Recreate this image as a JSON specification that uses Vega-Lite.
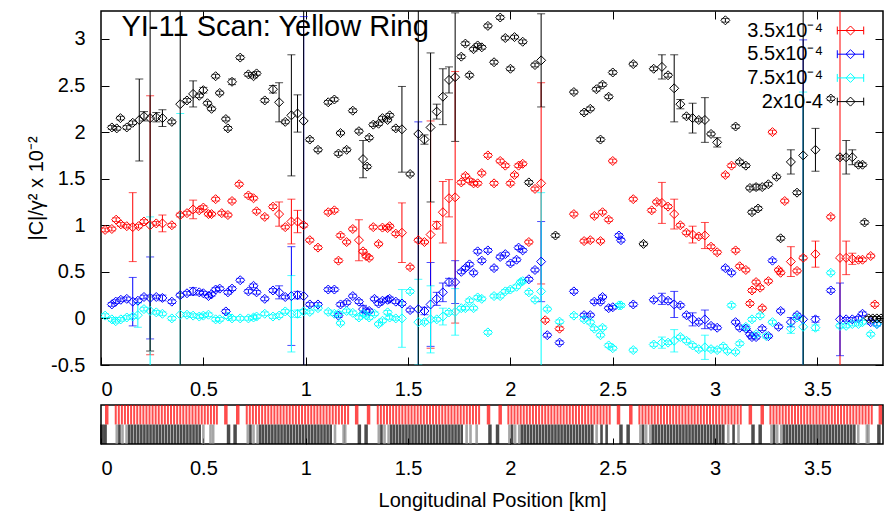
{
"$schema":"https://vega.github.io/schema/vega-lite/v6.json",
"padding":{"left":25,"top":9,"right":0,"bottom":0},
"spacing":4,
"config":{"font":"Liberation Sans","view":{"stroke":"black","strokeWidth":1.5},
"axis":{"labelFont":"Liberation Sans","labelFontSize":20,"labelColor":"black","tickColor":"black","titleFont":"Liberation Sans","titleFontSize":20,"titleFontWeight":"normal","titleColor":"black","grid":false,"domain":false}},
"resolve":{"scale":{"color":"independent"}},
"datasets":{
"pts":[
{"s":"r","x":0.02,"y":0.95,"e":0.02},{"s":"r","x":0.053,"y":0.96,"e":0.02},{"s":"r","x":0.074,"y":1.06,"e":0.02},{"s":"r","x":0.097,"y":1.01,"e":0.02},{"s":"r","x":0.126,"y":0.99,"e":0.02},{"s":"r","x":0.155,"y":0.98,"e":0.37},{"s":"r","x":0.183,"y":0.99,"e":0.02},{"s":"r","x":0.21,"y":1.04,"e":0.02},{"s":"r","x":0.24,"y":1.0,"e":1.39},{"s":"r","x":0.27,"y":1.02,"e":0.02},{"s":"r","x":0.3,"y":1.02,"e":0.09},{"s":"r","x":0.346,"y":1.0,"e":0.02},{"s":"r","x":0.387,"y":1.11,"e":0.02},{"s":"r","x":0.42,"y":1.13,"e":0.02},{"s":"r","x":0.45,"y":1.17,"e":0.1},{"s":"r","x":0.48,"y":1.16,"e":0.02},{"s":"r","x":0.5,"y":1.19,"e":0.02},{"s":"r","x":0.525,"y":1.12,"e":0.02},{"s":"r","x":0.54,"y":1.12,"e":0.02},{"s":"r","x":0.56,"y":1.28,"e":0.02},{"s":"r","x":0.59,"y":1.13,"e":0.02},{"s":"r","x":0.62,"y":1.11,"e":0.02},{"s":"r","x":0.64,"y":1.26,"e":0.02},{"s":"r","x":0.675,"y":1.44,"e":0.02},{"s":"r","x":0.72,"y":1.32,"e":0.02},{"s":"r","x":0.745,"y":1.29,"e":0.02},{"s":"r","x":0.76,"y":1.15,"e":0.02},{"s":"r","x":0.8,"y":1.09,"e":0.02},{"s":"r","x":0.84,"y":1.2,"e":0.02},{"s":"r","x":0.87,"y":1.12,"e":0.13},{"s":"r","x":0.9,"y":0.98,"e":0.02},{"s":"r","x":0.93,"y":1.04,"e":0.24},{"s":"r","x":0.96,"y":1.04,"e":0.12},{"s":"r","x":0.99,"y":1.0,"e":0.02},{"s":"r","x":1.02,"y":0.84,"e":0.02},{"s":"r","x":1.06,"y":0.76,"e":0.02},{"s":"r","x":1.11,"y":1.14,"e":0.02},{"s":"r","x":1.14,"y":1.16,"e":0.02},{"s":"r","x":1.16,"y":0.62,"e":0.02},{"s":"r","x":1.17,"y":0.89,"e":0.02},{"s":"r","x":1.2,"y":0.82,"e":0.02},{"s":"r","x":1.23,"y":0.96,"e":0.02},{"s":"r","x":1.26,"y":0.84,"e":0.22},{"s":"r","x":1.28,"y":0.72,"e":0.02},{"s":"r","x":1.295,"y":0.67,"e":0.02},{"s":"r","x":1.31,"y":0.65,"e":0.02},{"s":"r","x":1.33,"y":0.98,"e":0.02},{"s":"r","x":1.356,"y":0.8,"e":0.02},{"s":"r","x":1.375,"y":0.975,"e":0.02},{"s":"r","x":1.4,"y":0.97,"e":0.02},{"s":"r","x":1.41,"y":0.99,"e":0.02},{"s":"r","x":1.44,"y":0.91,"e":0.02},{"s":"r","x":1.47,"y":0.92,"e":0.32},{"s":"r","x":1.51,"y":0.55,"e":0.02},{"s":"r","x":1.55,"y":0.84,"e":0.02},{"s":"r","x":1.58,"y":0.82,"e":0.02},{"s":"r","x":1.61,"y":0.9,"e":1.22},{"s":"r","x":1.64,"y":1.0,"e":0.04},{"s":"r","x":1.67,"y":1.14,"e":0.33},{"s":"r","x":1.7,"y":1.29,"e":0.2},{"s":"r","x":1.73,"y":1.3,"e":1.35},{"s":"r","x":1.76,"y":1.46,"e":0.02},{"s":"r","x":1.78,"y":1.53,"e":0.02},{"s":"r","x":1.8,"y":1.48,"e":0.02},{"s":"r","x":1.82,"y":1.45,"e":0.02},{"s":"r","x":1.84,"y":1.45,"e":0.02},{"s":"r","x":1.86,"y":1.56,"e":0.02},{"s":"r","x":1.89,"y":1.75,"e":0.02},{"s":"r","x":1.92,"y":1.45,"e":0.02},{"s":"r","x":1.95,"y":1.69,"e":0.02},{"s":"r","x":1.975,"y":1.64,"e":0.02},{"s":"r","x":2.0,"y":1.45,"e":0.02},{"s":"r","x":2.02,"y":1.54,"e":0.02},{"s":"r","x":2.04,"y":1.64,"e":0.02},{"s":"r","x":2.06,"y":1.66,"e":0.02},{"s":"r","x":2.09,"y":0.82,"e":0.02},{"s":"r","x":2.12,"y":1.39,"e":0.02},{"s":"r","x":2.15,"y":1.45,"e":1.08},{"s":"r","x":2.17,"y":-0.02,"e":0.02},{"s":"r","x":2.24,"y":-0.11,"e":0.02},{"s":"r","x":2.31,"y":1.12,"e":0.02},{"s":"r","x":2.36,"y":0.83,"e":0.02},{"s":"r","x":2.39,"y":0.84,"e":0.02},{"s":"r","x":2.41,"y":1.1,"e":0.02},{"s":"r","x":2.44,"y":0.83,"e":0.02},{"s":"r","x":2.45,"y":1.14,"e":0.02},{"s":"r","x":2.48,"y":1.06,"e":0.02},{"s":"r","x":2.5,"y":1.69,"e":0.02},{"s":"r","x":2.6,"y":1.28,"e":0.02},{"s":"r","x":2.69,"y":1.16,"e":0.02},{"s":"r","x":2.715,"y":1.25,"e":0.02},{"s":"r","x":2.74,"y":1.24,"e":0.22},{"s":"r","x":2.77,"y":1.2,"e":0.02},{"s":"r","x":2.8,"y":1.12,"e":0.16},{"s":"r","x":2.83,"y":1.0,"e":0.02},{"s":"r","x":2.86,"y":0.92,"e":0.02},{"s":"r","x":2.89,"y":0.9,"e":0.09},{"s":"r","x":2.92,"y":0.88,"e":0.02},{"s":"r","x":2.95,"y":0.89,"e":0.14},{"s":"r","x":2.98,"y":0.77,"e":0.02},{"s":"r","x":3.01,"y":0.71,"e":0.02},{"s":"r","x":3.05,"y":1.54,"e":0.02},{"s":"r","x":3.08,"y":1.64,"e":0.02},{"s":"r","x":3.1,"y":0.73,"e":0.02},{"s":"r","x":3.12,"y":0.56,"e":0.02},{"s":"r","x":3.15,"y":0.52,"e":0.02},{"s":"r","x":3.17,"y":0.16,"e":0.02},{"s":"r","x":3.18,"y":0.3,"e":0.02},{"s":"r","x":3.2,"y":0.39,"e":0.02},{"s":"r","x":3.22,"y":0.33,"e":0.02},{"s":"r","x":3.23,"y":0.11,"e":0.02},{"s":"r","x":3.26,"y":0.4,"e":0.02},{"s":"r","x":3.28,"y":2.0,"e":0.02},{"s":"r","x":3.31,"y":0.52,"e":0.02},{"s":"r","x":3.32,"y":0.49,"e":0.02},{"s":"r","x":3.34,"y":1.26,"e":0.02},{"s":"r","x":3.37,"y":0.61,"e":0.16},{"s":"r","x":3.4,"y":0.51,"e":0.02},{"s":"r","x":3.43,"y":0.65,"e":0.02},{"s":"r","x":3.49,"y":0.69,"e":0.14},{"s":"r","x":3.565,"y":1.09,"e":0.02},{"s":"r","x":3.61,"y":0.65,"e":3.0},{"s":"r","x":3.64,"y":0.65,"e":0.18},{"s":"r","x":3.67,"y":0.64,"e":0.06},{"s":"r","x":3.7,"y":0.63,"e":0.02},{"s":"r","x":3.72,"y":0.63,"e":0.02},{"s":"r","x":3.76,"y":0.67,"e":0.02},{"s":"r","x":3.78,"y":0.15,"e":0.02},
{"s":"b","x":0.053,"y":0.15,"e":0.02},{"s":"b","x":0.072,"y":0.18,"e":0.02},{"s":"b","x":0.097,"y":0.2,"e":0.02},{"s":"b","x":0.126,"y":0.21,"e":0.02},{"s":"b","x":0.155,"y":0.18,"e":0.26},{"s":"b","x":0.18,"y":0.19,"e":0.02},{"s":"b","x":0.21,"y":0.23,"e":0.02},{"s":"b","x":0.24,"y":0.22,"e":0.44},{"s":"b","x":0.27,"y":0.23,"e":0.02},{"s":"b","x":0.3,"y":0.22,"e":0.03},{"s":"b","x":0.346,"y":0.18,"e":0.02},{"s":"b","x":0.387,"y":0.25,"e":0.02},{"s":"b","x":0.42,"y":0.27,"e":0.02},{"s":"b","x":0.45,"y":0.29,"e":0.04},{"s":"b","x":0.48,"y":0.28,"e":0.02},{"s":"b","x":0.5,"y":0.27,"e":0.02},{"s":"b","x":0.525,"y":0.24,"e":0.02},{"s":"b","x":0.54,"y":0.26,"e":0.02},{"s":"b","x":0.56,"y":0.31,"e":0.02},{"s":"b","x":0.58,"y":0.32,"e":0.02},{"s":"b","x":0.61,"y":0.075,"e":0.02},{"s":"b","x":0.62,"y":0.28,"e":0.02},{"s":"b","x":0.64,"y":0.32,"e":0.02},{"s":"b","x":0.68,"y":0.41,"e":0.02},{"s":"b","x":0.72,"y":0.29,"e":0.02},{"s":"b","x":0.745,"y":0.35,"e":0.02},{"s":"b","x":0.76,"y":0.28,"e":0.02},{"s":"b","x":0.8,"y":0.21,"e":0.02},{"s":"b","x":0.84,"y":0.3,"e":0.02},{"s":"b","x":0.87,"y":0.28,"e":0.07},{"s":"b","x":0.9,"y":0.23,"e":0.02},{"s":"b","x":0.93,"y":0.24,"e":0.53},{"s":"b","x":0.96,"y":0.25,"e":0.04},{"s":"b","x":0.99,"y":0.24,"e":3.0},{"s":"b","x":1.02,"y":0.15,"e":0.02},{"s":"b","x":1.06,"y":0.15,"e":0.02},{"s":"b","x":1.11,"y":0.31,"e":0.02},{"s":"b","x":1.14,"y":0.31,"e":0.02},{"s":"b","x":1.16,"y":0.03,"e":0.02},{"s":"b","x":1.17,"y":0.15,"e":0.02},{"s":"b","x":1.2,"y":0.17,"e":0.02},{"s":"b","x":1.23,"y":0.24,"e":0.02},{"s":"b","x":1.26,"y":0.18,"e":0.02},{"s":"b","x":1.28,"y":0.1,"e":0.04},{"s":"b","x":1.295,"y":0.08,"e":0.02},{"s":"b","x":1.31,"y":0.08,"e":0.02},{"s":"b","x":1.336,"y":0.21,"e":0.02},{"s":"b","x":1.356,"y":0.16,"e":0.02},{"s":"b","x":1.375,"y":0.19,"e":0.02},{"s":"b","x":1.4,"y":0.2,"e":0.02},{"s":"b","x":1.41,"y":0.21,"e":0.02},{"s":"b","x":1.44,"y":0.18,"e":0.02},{"s":"b","x":1.47,"y":0.16,"e":0.02},{"s":"b","x":1.51,"y":0.09,"e":0.02},{"s":"b","x":1.55,"y":0.1,"e":2.01},{"s":"b","x":1.58,"y":0.08,"e":0.04},{"s":"b","x":1.61,"y":0.15,"e":0.45},{"s":"b","x":1.64,"y":0.21,"e":0.07},{"s":"b","x":1.67,"y":0.28,"e":0.1},{"s":"b","x":1.7,"y":0.39,"e":0.04},{"s":"b","x":1.73,"y":0.39,"e":0.23},{"s":"b","x":1.76,"y":0.5,"e":0.02},{"s":"b","x":1.78,"y":0.54,"e":0.02},{"s":"b","x":1.8,"y":0.58,"e":0.02},{"s":"b","x":1.82,"y":0.49,"e":0.02},{"s":"b","x":1.84,"y":0.72,"e":0.02},{"s":"b","x":1.86,"y":0.62,"e":0.02},{"s":"b","x":1.89,"y":0.73,"e":0.02},{"s":"b","x":1.92,"y":0.54,"e":0.02},{"s":"b","x":1.95,"y":0.66,"e":0.02},{"s":"b","x":1.975,"y":0.69,"e":0.02},{"s":"b","x":2.0,"y":0.59,"e":0.02},{"s":"b","x":2.03,"y":0.63,"e":0.02},{"s":"b","x":2.04,"y":0.76,"e":0.02},{"s":"b","x":2.06,"y":0.73,"e":0.02},{"s":"b","x":2.09,"y":0.42,"e":0.02},{"s":"b","x":2.12,"y":0.52,"e":0.02},{"s":"b","x":2.15,"y":0.61,"e":0.43},{"s":"b","x":2.18,"y":-0.18,"e":0.02},{"s":"b","x":2.24,"y":-0.26,"e":0.02},{"s":"b","x":2.31,"y":0.29,"e":0.02},{"s":"b","x":2.36,"y":0.035,"e":0.02},{"s":"b","x":2.39,"y":0.035,"e":0.02},{"s":"b","x":2.41,"y":0.18,"e":0.02},{"s":"b","x":2.44,"y":0.18,"e":0.02},{"s":"b","x":2.45,"y":0.23,"e":0.02},{"s":"b","x":2.48,"y":0.11,"e":0.02},{"s":"b","x":2.5,"y":0.12,"e":0.02},{"s":"b","x":2.53,"y":0.89,"e":0.02},{"s":"b","x":2.54,"y":0.84,"e":0.02},{"s":"b","x":2.6,"y":0.15,"e":0.02},{"s":"b","x":2.7,"y":0.2,"e":0.02},{"s":"b","x":2.74,"y":0.21,"e":0.06},{"s":"b","x":2.77,"y":0.19,"e":0.02},{"s":"b","x":2.8,"y":0.15,"e":0.14},{"s":"b","x":2.83,"y":0.14,"e":0.02},{"s":"b","x":2.86,"y":0.035,"e":0.02},{"s":"b","x":2.89,"y":-0.01,"e":0.07},{"s":"b","x":2.92,"y":-0.04,"e":0.02},{"s":"b","x":2.95,"y":-0.01,"e":0.1},{"s":"b","x":2.98,"y":-0.08,"e":0.02},{"s":"b","x":3.01,"y":-0.1,"e":0.02},{"s":"b","x":3.05,"y":0.54,"e":0.02},{"s":"b","x":3.08,"y":0.49,"e":0.02},{"s":"b","x":3.1,"y":-0.04,"e":0.02},{"s":"b","x":3.12,"y":-0.1,"e":0.02},{"s":"b","x":3.15,"y":-0.11,"e":0.02},{"s":"b","x":3.17,"y":-0.17,"e":0.02},{"s":"b","x":3.18,"y":-0.2,"e":0.02},{"s":"b","x":3.2,"y":-0.2,"e":0.02},{"s":"b","x":3.23,"y":-0.11,"e":0.02},{"s":"b","x":3.26,"y":-0.19,"e":0.02},{"s":"b","x":3.28,"y":0.62,"e":0.02},{"s":"b","x":3.31,"y":-0.09,"e":0.02},{"s":"b","x":3.32,"y":0.08,"e":0.02},{"s":"b","x":3.37,"y":-0.04,"e":0.05},{"s":"b","x":3.4,"y":0.035,"e":0.02},{"s":"b","x":3.43,"y":-0.01,"e":3.0},{"s":"b","x":3.49,"y":-0.01,"e":0.03},{"s":"b","x":3.565,"y":0.3,"e":0.02},{"s":"b","x":3.61,"y":-0.01,"e":0.39},{"s":"b","x":3.64,"y":-0.01,"e":0.02},{"s":"b","x":3.67,"y":-0.01,"e":0.02},{"s":"b","x":3.7,"y":0.0,"e":0.02},{"s":"b","x":3.72,"y":0.05,"e":0.02},{"s":"b","x":3.76,"y":-0.04,"e":0.02},{"s":"b","x":3.79,"y":-0.06,"e":0.02},
{"s":"c","x":0.02,"y":0.03,"e":0.02},{"s":"c","x":0.053,"y":-0.01,"e":0.02},{"s":"c","x":0.072,"y":-0.03,"e":0.02},{"s":"c","x":0.097,"y":-0.01,"e":0.02},{"s":"c","x":0.126,"y":0.01,"e":0.02},{"s":"c","x":0.155,"y":0.02,"e":0.02},{"s":"c","x":0.18,"y":0.035,"e":0.13},{"s":"c","x":0.21,"y":0.1,"e":0.02},{"s":"c","x":0.24,"y":0.08,"e":1.01},{"s":"c","x":0.27,"y":0.065,"e":0.02},{"s":"c","x":0.3,"y":0.05,"e":0.02},{"s":"c","x":0.346,"y":0.0,"e":0.02},{"s":"c","x":0.387,"y":0.04,"e":2.16},{"s":"c","x":0.42,"y":0.04,"e":0.02},{"s":"c","x":0.45,"y":0.03,"e":0.02},{"s":"c","x":0.48,"y":0.02,"e":0.02},{"s":"c","x":0.5,"y":0.03,"e":0.02},{"s":"c","x":0.525,"y":0.04,"e":0.02},{"s":"c","x":0.56,"y":-0.01,"e":0.02},{"s":"c","x":0.58,"y":-0.01,"e":0.02},{"s":"c","x":0.62,"y":0.02,"e":0.02},{"s":"c","x":0.64,"y":0.0,"e":0.02},{"s":"c","x":0.68,"y":0.0,"e":0.02},{"s":"c","x":0.72,"y":0.0,"e":0.02},{"s":"c","x":0.745,"y":0.01,"e":0.02},{"s":"c","x":0.76,"y":0.02,"e":0.02},{"s":"c","x":0.8,"y":0.05,"e":0.02},{"s":"c","x":0.84,"y":0.02,"e":0.02},{"s":"c","x":0.87,"y":0.03,"e":0.02},{"s":"c","x":0.9,"y":0.075,"e":0.02},{"s":"c","x":0.93,"y":0.05,"e":0.41},{"s":"c","x":0.96,"y":0.05,"e":0.04},{"s":"c","x":0.99,"y":0.075,"e":0.02},{"s":"c","x":1.02,"y":0.07,"e":0.02},{"s":"c","x":1.06,"y":0.11,"e":0.02},{"s":"c","x":1.11,"y":0.07,"e":0.02},{"s":"c","x":1.14,"y":0.05,"e":0.02},{"s":"c","x":1.16,"y":0.05,"e":0.02},{"s":"c","x":1.17,"y":-0.05,"e":0.02},{"s":"c","x":1.2,"y":0.08,"e":0.02},{"s":"c","x":1.23,"y":0.06,"e":0.02},{"s":"c","x":1.26,"y":0.01,"e":0.02},{"s":"c","x":1.28,"y":0.05,"e":0.02},{"s":"c","x":1.295,"y":0.035,"e":0.02},{"s":"c","x":1.31,"y":0.01,"e":0.02},{"s":"c","x":1.336,"y":0.05,"e":0.02},{"s":"c","x":1.356,"y":-0.06,"e":0.02},{"s":"c","x":1.375,"y":-0.025,"e":0.02},{"s":"c","x":1.4,"y":0.065,"e":0.02},{"s":"c","x":1.41,"y":0.01,"e":0.02},{"s":"c","x":1.44,"y":0.0,"e":0.02},{"s":"c","x":1.47,"y":0.0,"e":0.31},{"s":"c","x":1.51,"y":0.29,"e":0.02},{"s":"c","x":1.55,"y":-0.04,"e":0.46},{"s":"c","x":1.58,"y":-0.04,"e":0.02},{"s":"c","x":1.61,"y":-0.01,"e":0.36},{"s":"c","x":1.64,"y":-0.01,"e":0.02},{"s":"c","x":1.67,"y":0.02,"e":0.09},{"s":"c","x":1.7,"y":0.065,"e":0.02},{"s":"c","x":1.73,"y":0.07,"e":0.25},{"s":"c","x":1.76,"y":0.11,"e":0.02},{"s":"c","x":1.78,"y":0.11,"e":0.02},{"s":"c","x":1.8,"y":0.19,"e":0.02},{"s":"c","x":1.82,"y":0.11,"e":0.02},{"s":"c","x":1.84,"y":0.225,"e":0.02},{"s":"c","x":1.86,"y":0.21,"e":0.02},{"s":"c","x":1.89,"y":-0.15,"e":0.02},{"s":"c","x":1.92,"y":0.24,"e":0.02},{"s":"c","x":1.95,"y":0.24,"e":0.02},{"s":"c","x":1.975,"y":0.29,"e":0.02},{"s":"c","x":2.0,"y":0.31,"e":0.02},{"s":"c","x":2.03,"y":0.34,"e":0.02},{"s":"c","x":2.05,"y":0.39,"e":0.02},{"s":"c","x":2.06,"y":0.4,"e":0.02},{"s":"c","x":2.09,"y":0.28,"e":0.02},{"s":"c","x":2.12,"y":0.2,"e":0.02},{"s":"c","x":2.15,"y":0.29,"e":1.06},{"s":"c","x":2.18,"y":0.1,"e":0.02},{"s":"c","x":2.24,"y":-0.035,"e":0.02},{"s":"c","x":2.31,"y":0.03,"e":0.02},{"s":"c","x":2.36,"y":-0.01,"e":0.02},{"s":"c","x":2.39,"y":-0.04,"e":0.02},{"s":"c","x":2.41,"y":-0.11,"e":0.02},{"s":"c","x":2.44,"y":-0.18,"e":0.02},{"s":"c","x":2.45,"y":-0.1,"e":0.02},{"s":"c","x":2.48,"y":-0.29,"e":0.02},{"s":"c","x":2.5,"y":-0.32,"e":0.02},{"s":"c","x":2.53,"y":0.14,"e":0.02},{"s":"c","x":2.54,"y":0.14,"e":0.02},{"s":"c","x":2.6,"y":-0.34,"e":0.02},{"s":"c","x":2.7,"y":-0.28,"e":0.02},{"s":"c","x":2.74,"y":-0.26,"e":0.06},{"s":"c","x":2.77,"y":-0.26,"e":0.02},{"s":"c","x":2.8,"y":-0.24,"e":0.12},{"s":"c","x":2.83,"y":-0.2,"e":0.02},{"s":"c","x":2.86,"y":-0.24,"e":0.02},{"s":"c","x":2.89,"y":-0.29,"e":0.02},{"s":"c","x":2.92,"y":-0.33,"e":0.02},{"s":"c","x":2.95,"y":-0.31,"e":0.13},{"s":"c","x":2.98,"y":-0.33,"e":0.02},{"s":"c","x":3.01,"y":-0.34,"e":0.02},{"s":"c","x":3.04,"y":-0.3,"e":0.02},{"s":"c","x":3.06,"y":-0.35,"e":0.02},{"s":"c","x":3.08,"y":0.14,"e":0.02},{"s":"c","x":3.1,"y":-0.36,"e":0.02},{"s":"c","x":3.12,"y":-0.27,"e":0.02},{"s":"c","x":3.15,"y":-0.09,"e":0.02},{"s":"c","x":3.18,"y":-0.01,"e":0.02},{"s":"c","x":3.2,"y":-0.17,"e":0.02},{"s":"c","x":3.22,"y":0.03,"e":0.02},{"s":"c","x":3.25,"y":-0.19,"e":0.02},{"s":"c","x":3.28,"y":-0.04,"e":0.02},{"s":"c","x":3.37,"y":-0.11,"e":0.05},{"s":"c","x":3.4,"y":0.01,"e":0.02},{"s":"c","x":3.43,"y":-0.09,"e":2.52},{"s":"c","x":3.49,"y":-0.1,"e":0.03},{"s":"c","x":3.565,"y":0.49,"e":0.02},{"s":"c","x":3.61,"y":-0.08,"e":0.02},{"s":"c","x":3.64,"y":-0.08,"e":0.02},{"s":"c","x":3.67,"y":-0.06,"e":0.02},{"s":"c","x":3.7,"y":-0.06,"e":0.02},{"s":"c","x":3.72,"y":-0.04,"e":0.02},{"s":"c","x":3.76,"y":-0.17,"e":0.02},{"s":"c","x":3.79,"y":-0.06,"e":0.02},
{"s":"k","x":0.053,"y":2.05,"e":0.02},{"s":"k","x":0.077,"y":2.04,"e":0.02},{"s":"k","x":0.095,"y":2.15,"e":0.02},{"s":"k","x":0.126,"y":2.05,"e":0.02},{"s":"k","x":0.155,"y":2.1,"e":0.02},{"s":"k","x":0.187,"y":2.13,"e":0.44},{"s":"k","x":0.21,"y":2.17,"e":0.05},{"s":"k","x":0.24,"y":2.15,"e":2.5},{"s":"k","x":0.27,"y":2.16,"e":0.05},{"s":"k","x":0.3,"y":2.15,"e":0.09},{"s":"k","x":0.346,"y":2.11,"e":0.02},{"s":"k","x":0.387,"y":2.3,"e":3.0},{"s":"k","x":0.42,"y":2.34,"e":0.02},{"s":"k","x":0.45,"y":2.41,"e":0.14},{"s":"k","x":0.48,"y":2.39,"e":0.02},{"s":"k","x":0.5,"y":2.45,"e":0.03},{"s":"k","x":0.52,"y":2.31,"e":0.02},{"s":"k","x":0.54,"y":2.25,"e":0.02},{"s":"k","x":0.56,"y":2.6,"e":0.02},{"s":"k","x":0.58,"y":2.42,"e":0.02},{"s":"k","x":0.61,"y":2.14,"e":0.02},{"s":"k","x":0.62,"y":2.04,"e":0.02},{"s":"k","x":0.64,"y":2.54,"e":0.03},{"s":"k","x":0.68,"y":2.8,"e":0.02},{"s":"k","x":0.72,"y":2.62,"e":0.02},{"s":"k","x":0.745,"y":2.6,"e":0.02},{"s":"k","x":0.76,"y":2.63,"e":0.02},{"s":"k","x":0.8,"y":2.34,"e":0.02},{"s":"k","x":0.84,"y":2.46,"e":0.04},{"s":"k","x":0.87,"y":2.32,"e":0.21},{"s":"k","x":0.9,"y":2.11,"e":0.02},{"s":"k","x":0.93,"y":2.18,"e":0.65},{"s":"k","x":0.96,"y":2.2,"e":0.2},{"s":"k","x":0.99,"y":2.12,"e":3.0},{"s":"k","x":1.02,"y":1.92,"e":0.02},{"s":"k","x":1.06,"y":1.81,"e":0.02},{"s":"k","x":1.11,"y":2.32,"e":0.02},{"s":"k","x":1.14,"y":2.35,"e":0.02},{"s":"k","x":1.16,"y":1.77,"e":0.02},{"s":"k","x":1.17,"y":1.99,"e":0.02},{"s":"k","x":1.2,"y":1.81,"e":0.02},{"s":"k","x":1.23,"y":2.23,"e":0.02},{"s":"k","x":1.26,"y":2.01,"e":0.02},{"s":"k","x":1.28,"y":1.71,"e":0.2},{"s":"k","x":1.3,"y":1.63,"e":0.02},{"s":"k","x":1.31,"y":1.94,"e":0.02},{"s":"k","x":1.33,"y":2.08,"e":0.02},{"s":"k","x":1.356,"y":2.09,"e":0.02},{"s":"k","x":1.375,"y":2.15,"e":0.02},{"s":"k","x":1.4,"y":2.13,"e":0.02},{"s":"k","x":1.41,"y":2.18,"e":0.02},{"s":"k","x":1.44,"y":2.04,"e":0.02},{"s":"k","x":1.47,"y":2.03,"e":0.46},{"s":"k","x":1.51,"y":1.55,"e":0.02},{"s":"k","x":1.55,"y":1.98,"e":3.0},{"s":"k","x":1.58,"y":1.92,"e":0.05},{"s":"k","x":1.61,"y":2.05,"e":0.8},{"s":"k","x":1.64,"y":2.22,"e":0.08},{"s":"k","x":1.67,"y":2.38,"e":0.3},{"s":"k","x":1.7,"y":2.56,"e":0.14},{"s":"k","x":1.73,"y":2.59,"e":0.69},{"s":"k","x":1.76,"y":2.81,"e":0.02},{"s":"k","x":1.78,"y":2.95,"e":0.02},{"s":"k","x":1.8,"y":2.61,"e":0.02},{"s":"k","x":1.82,"y":2.89,"e":0.02},{"s":"k","x":1.84,"y":2.93,"e":0.02},{"s":"k","x":1.86,"y":2.91,"e":0.02},{"s":"k","x":1.89,"y":3.14,"e":0.02},{"s":"k","x":1.92,"y":2.75,"e":0.02},{"s":"k","x":1.95,"y":3.23,"e":0.02},{"s":"k","x":1.975,"y":3.01,"e":0.02},{"s":"k","x":2.0,"y":2.68,"e":0.02},{"s":"k","x":2.02,"y":3.02,"e":0.02},{"s":"k","x":2.06,"y":2.97,"e":0.02},{"s":"k","x":2.09,"y":1.46,"e":0.02},{"s":"k","x":2.12,"y":2.72,"e":0.02},{"s":"k","x":2.15,"y":2.77,"e":0.5},{"s":"k","x":2.22,"y":0.89,"e":0.02},{"s":"k","x":2.31,"y":2.43,"e":0.02},{"s":"k","x":2.36,"y":2.21,"e":0.02},{"s":"k","x":2.39,"y":2.25,"e":0.02},{"s":"k","x":2.42,"y":2.46,"e":0.02},{"s":"k","x":2.44,"y":1.92,"e":0.02},{"s":"k","x":2.45,"y":2.51,"e":0.02},{"s":"k","x":2.48,"y":2.38,"e":0.02},{"s":"k","x":2.5,"y":2.64,"e":0.02},{"s":"k","x":2.6,"y":2.73,"e":0.02},{"s":"k","x":2.65,"y":0.8,"e":0.02},{"s":"k","x":2.7,"y":2.68,"e":0.02},{"s":"k","x":2.74,"y":2.7,"e":0.13},{"s":"k","x":2.77,"y":2.61,"e":0.02},{"s":"k","x":2.8,"y":2.47,"e":0.36},{"s":"k","x":2.83,"y":2.3,"e":0.05},{"s":"k","x":2.86,"y":2.17,"e":0.02},{"s":"k","x":2.89,"y":2.15,"e":0.16},{"s":"k","x":2.92,"y":2.13,"e":0.02},{"s":"k","x":2.95,"y":2.13,"e":0.24},{"s":"k","x":2.98,"y":1.98,"e":0.02},{"s":"k","x":3.01,"y":1.89,"e":0.05},{"s":"k","x":3.05,"y":3.2,"e":0.02},{"s":"k","x":3.1,"y":2.06,"e":0.02},{"s":"k","x":3.12,"y":1.68,"e":0.02},{"s":"k","x":3.15,"y":1.64,"e":0.02},{"s":"k","x":3.17,"y":1.4,"e":0.02},{"s":"k","x":3.18,"y":1.14,"e":0.02},{"s":"k","x":3.2,"y":1.41,"e":0.03},{"s":"k","x":3.21,"y":1.18,"e":0.02},{"s":"k","x":3.23,"y":1.41,"e":0.02},{"s":"k","x":3.26,"y":1.44,"e":0.02},{"s":"k","x":3.3,"y":1.52,"e":0.02},{"s":"k","x":3.32,"y":0.86,"e":0.02},{"s":"k","x":3.37,"y":1.68,"e":0.13},{"s":"k","x":3.4,"y":1.35,"e":0.02},{"s":"k","x":3.43,"y":1.75,"e":3.0},{"s":"k","x":3.49,"y":1.81,"e":0.23},{"s":"k","x":3.565,"y":2.36,"e":0.02},{"s":"k","x":3.61,"y":1.73,"e":0.02},{"s":"k","x":3.64,"y":1.73,"e":0.18},{"s":"k","x":3.67,"y":1.73,"e":0.08},{"s":"k","x":3.7,"y":1.65,"e":0.02},{"s":"k","x":3.72,"y":1.65,"e":0.02},{"s":"k","x":3.73,"y":1.03,"e":0.02},{"s":"k","x":3.75,"y":0.0,"e":0.02},{"s":"k","x":3.77,"y":0.0,"e":0.02},{"s":"k","x":3.79,"y":0.0,"e":0.02},{"s":"k","x":3.81,"y":0.0,"e":0.02}
],
"lat":[
{"p":0.072,"r":"a","c":"r"},{"p":0.087,"r":"a","c":"r"},{"p":0.102,"r":"a","c":"r"},{"p":0.117,"r":"a","c":"r"},{"p":0.132,"r":"a","c":"r"},{"p":0.147,"r":"a","c":"r"},{"p":0.162,"r":"a","c":"r"},{"p":0.177,"r":"a","c":"r"},{"p":0.192,"r":"a","c":"r"},{"p":0.207,"r":"a","c":"r"},{"p":0.222,"r":"a","c":"r"},{"p":0.237,"r":"a","c":"r"},{"p":0.252,"r":"a","c":"r"},{"p":0.267,"r":"a","c":"r"},{"p":0.282,"r":"a","c":"r"},{"p":0.297,"r":"a","c":"r"},{"p":0.312,"r":"a","c":"r"},{"p":0.327,"r":"a","c":"r"},{"p":0.342,"r":"a","c":"r"},{"p":0.357,"r":"a","c":"r"},{"p":0.372,"r":"a","c":"r"},{"p":0.387,"r":"a","c":"r"},{"p":0.402,"r":"a","c":"r"},{"p":0.417,"r":"a","c":"r"},{"p":0.432,"r":"a","c":"r"},{"p":0.447,"r":"a","c":"r"},{"p":0.462,"r":"a","c":"r"},{"p":0.477,"r":"a","c":"r"},{"p":0.492,"r":"a","c":"r"},{"p":0.507,"r":"a","c":"r"},{"p":0.522,"r":"a","c":"r"},{"p":0.537,"r":"a","c":"r"},{"p":0.552,"r":"a","c":"r"},{"p":0.566,"r":"a","c":"r"},
{"p":0.712,"r":"a","c":"r"},{"p":0.727,"r":"a","c":"r"},{"p":0.742,"r":"a","c":"r"},{"p":0.757,"r":"a","c":"r"},{"p":0.772,"r":"a","c":"r"},{"p":0.787,"r":"a","c":"r"},{"p":0.802,"r":"a","c":"r"},{"p":0.817,"r":"a","c":"r"},{"p":0.832,"r":"a","c":"r"},{"p":0.847,"r":"a","c":"r"},{"p":0.862,"r":"a","c":"r"},{"p":0.877,"r":"a","c":"r"},{"p":0.892,"r":"a","c":"r"},{"p":0.907,"r":"a","c":"r"},{"p":0.922,"r":"a","c":"r"},{"p":0.937,"r":"a","c":"r"},{"p":0.952,"r":"a","c":"r"},{"p":0.967,"r":"a","c":"r"},{"p":0.982,"r":"a","c":"r"},{"p":0.997,"r":"a","c":"r"},{"p":1.012,"r":"a","c":"r"},{"p":1.027,"r":"a","c":"r"},{"p":1.042,"r":"a","c":"r"},{"p":1.057,"r":"a","c":"r"},{"p":1.072,"r":"a","c":"r"},{"p":1.087,"r":"a","c":"r"},{"p":1.102,"r":"a","c":"r"},{"p":1.117,"r":"a","c":"r"},{"p":1.132,"r":"a","c":"r"},{"p":1.147,"r":"a","c":"r"},{"p":1.162,"r":"a","c":"r"},{"p":1.177,"r":"a","c":"r"},{"p":1.192,"r":"a","c":"r"},{"p":1.207,"r":"a","c":"r"},
{"p":1.352,"r":"a","c":"r"},{"p":1.367,"r":"a","c":"r"},{"p":1.382,"r":"a","c":"r"},{"p":1.397,"r":"a","c":"r"},{"p":1.412,"r":"a","c":"r"},{"p":1.427,"r":"a","c":"r"},{"p":1.442,"r":"a","c":"r"},{"p":1.457,"r":"a","c":"r"},{"p":1.472,"r":"a","c":"r"},{"p":1.487,"r":"a","c":"r"},{"p":1.502,"r":"a","c":"r"},{"p":1.517,"r":"a","c":"r"},{"p":1.532,"r":"a","c":"r"},{"p":1.547,"r":"a","c":"r"},{"p":1.562,"r":"a","c":"r"},{"p":1.577,"r":"a","c":"r"},{"p":1.592,"r":"a","c":"r"},{"p":1.607,"r":"a","c":"r"},{"p":1.622,"r":"a","c":"r"},{"p":1.637,"r":"a","c":"r"},{"p":1.652,"r":"a","c":"r"},{"p":1.667,"r":"a","c":"r"},{"p":1.682,"r":"a","c":"r"},{"p":1.697,"r":"a","c":"r"},{"p":1.712,"r":"a","c":"r"},{"p":1.727,"r":"a","c":"r"},{"p":1.742,"r":"a","c":"r"},{"p":1.757,"r":"a","c":"r"},{"p":1.772,"r":"a","c":"r"},{"p":1.787,"r":"a","c":"r"},{"p":1.802,"r":"a","c":"r"},{"p":1.817,"r":"a","c":"r"},{"p":1.832,"r":"a","c":"r"},{"p":1.847,"r":"a","c":"r"},
{"p":1.99,"r":"a","c":"r"},{"p":2.005,"r":"a","c":"r"},{"p":2.02,"r":"a","c":"r"},{"p":2.035,"r":"a","c":"r"},{"p":2.05,"r":"a","c":"r"},{"p":2.065,"r":"a","c":"r"},{"p":2.08,"r":"a","c":"r"},{"p":2.095,"r":"a","c":"r"},{"p":2.11,"r":"a","c":"r"},{"p":2.125,"r":"a","c":"r"},{"p":2.14,"r":"a","c":"r"},{"p":2.155,"r":"a","c":"r"},{"p":2.17,"r":"a","c":"r"},{"p":2.185,"r":"a","c":"r"},{"p":2.2,"r":"a","c":"r"},{"p":2.215,"r":"a","c":"r"},{"p":2.23,"r":"a","c":"r"},{"p":2.245,"r":"a","c":"r"},{"p":2.26,"r":"a","c":"r"},{"p":2.275,"r":"a","c":"r"},{"p":2.29,"r":"a","c":"r"},{"p":2.305,"r":"a","c":"r"},{"p":2.32,"r":"a","c":"r"},{"p":2.335,"r":"a","c":"r"},{"p":2.35,"r":"a","c":"r"},{"p":2.365,"r":"a","c":"r"},{"p":2.38,"r":"a","c":"r"},{"p":2.395,"r":"a","c":"r"},{"p":2.41,"r":"a","c":"r"},{"p":2.425,"r":"a","c":"r"},{"p":2.44,"r":"a","c":"r"},{"p":2.455,"r":"a","c":"r"},{"p":2.47,"r":"a","c":"r"},{"p":2.485,"r":"a","c":"r"},
{"p":2.63,"r":"a","c":"r"},{"p":2.645,"r":"a","c":"r"},{"p":2.66,"r":"a","c":"r"},{"p":2.675,"r":"a","c":"r"},{"p":2.69,"r":"a","c":"r"},{"p":2.705,"r":"a","c":"r"},{"p":2.72,"r":"a","c":"r"},{"p":2.735,"r":"a","c":"r"},{"p":2.75,"r":"a","c":"r"},{"p":2.765,"r":"a","c":"r"},{"p":2.78,"r":"a","c":"r"},{"p":2.795,"r":"a","c":"r"},{"p":2.81,"r":"a","c":"r"},{"p":2.825,"r":"a","c":"r"},{"p":2.84,"r":"a","c":"r"},{"p":2.855,"r":"a","c":"r"},{"p":2.87,"r":"a","c":"r"},{"p":2.885,"r":"a","c":"r"},{"p":2.9,"r":"a","c":"r"},{"p":2.915,"r":"a","c":"r"},{"p":2.93,"r":"a","c":"r"},{"p":2.945,"r":"a","c":"r"},{"p":2.96,"r":"a","c":"r"},{"p":2.975,"r":"a","c":"r"},{"p":2.99,"r":"a","c":"r"},{"p":3.005,"r":"a","c":"r"},{"p":3.02,"r":"a","c":"r"},{"p":3.035,"r":"a","c":"r"},{"p":3.05,"r":"a","c":"r"},{"p":3.065,"r":"a","c":"r"},{"p":3.08,"r":"a","c":"r"},{"p":3.095,"r":"a","c":"r"},{"p":3.11,"r":"a","c":"r"},{"p":3.125,"r":"a","c":"r"},
{"p":3.27,"r":"a","c":"r"},{"p":3.285,"r":"a","c":"r"},{"p":3.3,"r":"a","c":"r"},{"p":3.315,"r":"a","c":"r"},{"p":3.33,"r":"a","c":"r"},{"p":3.345,"r":"a","c":"r"},{"p":3.36,"r":"a","c":"r"},{"p":3.375,"r":"a","c":"r"},{"p":3.39,"r":"a","c":"r"},{"p":3.405,"r":"a","c":"r"},{"p":3.42,"r":"a","c":"r"},{"p":3.435,"r":"a","c":"r"},{"p":3.45,"r":"a","c":"r"},{"p":3.465,"r":"a","c":"r"},{"p":3.48,"r":"a","c":"r"},{"p":3.495,"r":"a","c":"r"},{"p":3.51,"r":"a","c":"r"},{"p":3.525,"r":"a","c":"r"},{"p":3.54,"r":"a","c":"r"},{"p":3.555,"r":"a","c":"r"},{"p":3.57,"r":"a","c":"r"},{"p":3.585,"r":"a","c":"r"},{"p":3.6,"r":"a","c":"r"},{"p":3.615,"r":"a","c":"r"},{"p":3.63,"r":"a","c":"r"},{"p":3.645,"r":"a","c":"r"},{"p":3.66,"r":"a","c":"r"},{"p":3.675,"r":"a","c":"r"},{"p":3.69,"r":"a","c":"r"},{"p":3.705,"r":"a","c":"r"},{"p":3.72,"r":"a","c":"r"},{"p":3.735,"r":"a","c":"r"},{"p":3.75,"r":"a","c":"r"},{"p":3.765,"r":"a","c":"r"},
{"p":0.077,"r":"b","c":"g"},{"p":0.09,"r":"b","c":"k"},{"p":0.105,"r":"b","c":"g"},{"p":0.125,"r":"b","c":"g"},{"p":0.138,"r":"b","c":"k"},{"p":0.152,"r":"b","c":"k"},{"p":0.167,"r":"b","c":"k"},{"p":0.182,"r":"b","c":"k"},{"p":0.197,"r":"b","c":"k"},{"p":0.212,"r":"b","c":"k"},{"p":0.227,"r":"b","c":"k"},{"p":0.242,"r":"b","c":"k"},{"p":0.257,"r":"b","c":"k"},{"p":0.272,"r":"b","c":"k"},{"p":0.287,"r":"b","c":"k"},{"p":0.302,"r":"b","c":"k"},{"p":0.317,"r":"b","c":"k"},{"p":0.332,"r":"b","c":"k"},{"p":0.347,"r":"b","c":"k"},{"p":0.362,"r":"b","c":"k"},{"p":0.377,"r":"b","c":"k"},{"p":0.392,"r":"b","c":"k"},{"p":0.407,"r":"b","c":"k"},{"p":0.422,"r":"b","c":"k"},{"p":0.437,"r":"b","c":"k"},{"p":0.452,"r":"b","c":"k"},{"p":0.467,"r":"b","c":"k"},{"p":0.482,"r":"b","c":"k"},{"p":0.5,"r":"b","c":"g"},{"p":0.535,"r":"b","c":"g"},{"p":0.548,"r":"b","c":"g"},
{"p":0.717,"r":"b","c":"g"},{"p":0.73,"r":"b","c":"k"},{"p":0.745,"r":"b","c":"g"},{"p":0.765,"r":"b","c":"g"},{"p":0.778,"r":"b","c":"k"},{"p":0.792,"r":"b","c":"k"},{"p":0.807,"r":"b","c":"k"},{"p":0.822,"r":"b","c":"k"},{"p":0.837,"r":"b","c":"k"},{"p":0.852,"r":"b","c":"k"},{"p":0.867,"r":"b","c":"k"},{"p":0.882,"r":"b","c":"k"},{"p":0.897,"r":"b","c":"k"},{"p":0.912,"r":"b","c":"k"},{"p":0.927,"r":"b","c":"k"},{"p":0.942,"r":"b","c":"k"},{"p":0.957,"r":"b","c":"k"},{"p":0.972,"r":"b","c":"k"},{"p":0.987,"r":"b","c":"k"},{"p":1.002,"r":"b","c":"k"},{"p":1.017,"r":"b","c":"k"},{"p":1.032,"r":"b","c":"k"},{"p":1.047,"r":"b","c":"k"},{"p":1.062,"r":"b","c":"k"},{"p":1.077,"r":"b","c":"k"},{"p":1.092,"r":"b","c":"k"},{"p":1.107,"r":"b","c":"k"},{"p":1.122,"r":"b","c":"k"},{"p":1.143,"r":"b","c":"g"},{"p":1.185,"r":"b","c":"g"},{"p":1.193,"r":"b","c":"g"},
{"p":1.357,"r":"b","c":"g"},{"p":1.37,"r":"b","c":"k"},{"p":1.385,"r":"b","c":"g"},{"p":1.405,"r":"b","c":"g"},{"p":1.418,"r":"b","c":"k"},{"p":1.432,"r":"b","c":"k"},{"p":1.447,"r":"b","c":"k"},{"p":1.462,"r":"b","c":"k"},{"p":1.477,"r":"b","c":"k"},{"p":1.492,"r":"b","c":"k"},{"p":1.507,"r":"b","c":"k"},{"p":1.522,"r":"b","c":"k"},{"p":1.537,"r":"b","c":"k"},{"p":1.552,"r":"b","c":"k"},{"p":1.567,"r":"b","c":"k"},{"p":1.582,"r":"b","c":"k"},{"p":1.597,"r":"b","c":"k"},{"p":1.612,"r":"b","c":"k"},{"p":1.627,"r":"b","c":"k"},{"p":1.642,"r":"b","c":"k"},{"p":1.657,"r":"b","c":"k"},{"p":1.672,"r":"b","c":"k"},{"p":1.687,"r":"b","c":"k"},{"p":1.702,"r":"b","c":"k"},{"p":1.717,"r":"b","c":"k"},{"p":1.732,"r":"b","c":"k"},{"p":1.747,"r":"b","c":"k"},{"p":1.762,"r":"b","c":"k"},{"p":1.786,"r":"b","c":"g"},{"p":1.805,"r":"b","c":"g"},{"p":1.835,"r":"b","c":"g"},
{"p":1.995,"r":"b","c":"g"},{"p":2.008,"r":"b","c":"k"},{"p":2.023,"r":"b","c":"g"},{"p":2.043,"r":"b","c":"g"},{"p":2.056,"r":"b","c":"k"},{"p":2.07,"r":"b","c":"k"},{"p":2.085,"r":"b","c":"k"},{"p":2.1,"r":"b","c":"k"},{"p":2.115,"r":"b","c":"k"},{"p":2.13,"r":"b","c":"k"},{"p":2.145,"r":"b","c":"k"},{"p":2.16,"r":"b","c":"k"},{"p":2.175,"r":"b","c":"k"},{"p":2.19,"r":"b","c":"k"},{"p":2.205,"r":"b","c":"k"},{"p":2.22,"r":"b","c":"k"},{"p":2.235,"r":"b","c":"k"},{"p":2.25,"r":"b","c":"k"},{"p":2.265,"r":"b","c":"k"},{"p":2.28,"r":"b","c":"k"},{"p":2.295,"r":"b","c":"k"},{"p":2.31,"r":"b","c":"k"},{"p":2.325,"r":"b","c":"k"},{"p":2.34,"r":"b","c":"k"},{"p":2.355,"r":"b","c":"k"},{"p":2.37,"r":"b","c":"k"},{"p":2.385,"r":"b","c":"k"},{"p":2.4,"r":"b","c":"k"},{"p":2.421,"r":"b","c":"g"},{"p":2.445,"r":"b","c":"k"},{"p":2.47,"r":"b","c":"k"},
{"p":2.635,"r":"b","c":"g"},{"p":2.648,"r":"b","c":"k"},{"p":2.663,"r":"b","c":"g"},{"p":2.683,"r":"b","c":"g"},{"p":2.696,"r":"b","c":"k"},{"p":2.71,"r":"b","c":"k"},{"p":2.725,"r":"b","c":"k"},{"p":2.74,"r":"b","c":"k"},{"p":2.755,"r":"b","c":"k"},{"p":2.77,"r":"b","c":"k"},{"p":2.785,"r":"b","c":"k"},{"p":2.8,"r":"b","c":"k"},{"p":2.815,"r":"b","c":"k"},{"p":2.83,"r":"b","c":"k"},{"p":2.845,"r":"b","c":"k"},{"p":2.86,"r":"b","c":"k"},{"p":2.875,"r":"b","c":"k"},{"p":2.89,"r":"b","c":"k"},{"p":2.905,"r":"b","c":"k"},{"p":2.92,"r":"b","c":"k"},{"p":2.935,"r":"b","c":"k"},{"p":2.95,"r":"b","c":"k"},{"p":2.965,"r":"b","c":"k"},{"p":2.98,"r":"b","c":"k"},{"p":2.995,"r":"b","c":"k"},{"p":3.01,"r":"b","c":"k"},{"p":3.025,"r":"b","c":"k"},{"p":3.04,"r":"b","c":"k"},{"p":3.064,"r":"b","c":"g"},{"p":3.09,"r":"b","c":"k"},{"p":3.114,"r":"b","c":"g"},
{"p":3.275,"r":"b","c":"g"},{"p":3.288,"r":"b","c":"k"},{"p":3.303,"r":"b","c":"g"},{"p":3.323,"r":"b","c":"g"},{"p":3.336,"r":"b","c":"k"},{"p":3.35,"r":"b","c":"k"},{"p":3.365,"r":"b","c":"k"},{"p":3.38,"r":"b","c":"k"},{"p":3.395,"r":"b","c":"k"},{"p":3.41,"r":"b","c":"k"},{"p":3.425,"r":"b","c":"k"},{"p":3.44,"r":"b","c":"k"},{"p":3.455,"r":"b","c":"k"},{"p":3.47,"r":"b","c":"k"},{"p":3.485,"r":"b","c":"k"},{"p":3.5,"r":"b","c":"k"},{"p":3.515,"r":"b","c":"k"},{"p":3.53,"r":"b","c":"k"},{"p":3.545,"r":"b","c":"k"},{"p":3.56,"r":"b","c":"k"},{"p":3.575,"r":"b","c":"k"},{"p":3.59,"r":"b","c":"k"},{"p":3.605,"r":"b","c":"k"},{"p":3.62,"r":"b","c":"k"},{"p":3.635,"r":"b","c":"k"},{"p":3.65,"r":"b","c":"k"},{"p":3.665,"r":"b","c":"k"},{"p":3.68,"r":"b","c":"k"},{"p":3.699,"r":"b","c":"g"},{"p":3.741,"r":"b","c":"g"},{"p":3.749,"r":"b","c":"g"}
],
"ir":[
{"p":0.028,"r":"a","c":"r"},{"p":0.61,"r":"a","c":"r"},{"p":0.668,"r":"a","c":"r"},{"p":1.249,"r":"a","c":"r"},{"p":1.307,"r":"a","c":"r"},{"p":1.893,"r":"a","c":"r"},{"p":1.95,"r":"a","c":"r"},{"p":2.528,"r":"a","c":"r"},{"p":2.588,"r":"a","c":"r"},{"p":3.172,"r":"a","c":"r"},{"p":3.23,"r":"a","c":"r"},{"p":3.807,"r":"a","c":"r"},
{"p":0.004,"r":"b","c":"k"},{"p":0.02,"r":"b","c":"k"},{"p":0.623,"r":"b","c":"k"},{"p":0.655,"r":"b","c":"k"},{"p":1.262,"r":"b","c":"k"},{"p":1.295,"r":"b","c":"k"},{"p":1.9,"r":"b","c":"k"},{"p":1.937,"r":"b","c":"k"},{"p":2.54,"r":"b","c":"k"},{"p":2.575,"r":"b","c":"k"},{"p":3.185,"r":"b","c":"k"},{"p":3.22,"r":"b","c":"k"},{"p":3.8,"r":"b","c":"k"}
]
},
"vconcat":[
{
"width":782,"height":354,
"layer":[
{"data":{"name":"pts"},
"mark":{"type":"errorbar","ticks":{"size":8},"clip":true,"thickness":1},
"encoding":{
"x":{"field":"x","type":"quantitative","scale":{"domain":[0,3.82],"nice":false,"zero":false},"axis":{"orient":"top","labels":false,"title":null,"values":[0.5,1,1.5,2,2.5,3,3.5],"tickSize":-8}},
"y":{"field":"y","type":"quantitative","scale":{"domain":[-0.5,3.3],"nice":false,"zero":false},"axis":{"orient":"right","labels":false,"title":null,"values":[-0.5,0,0.5,1,1.5,2,2.5,3],"tickSize":-8}},
"yError":{"field":"e"},
"color":{"field":"s","type":"nominal","scale":{"domain":["r","b","c","k"],"range":["#ff0000","#0000ff","#00ffff","#000000"]},"legend":null}}},
{"data":{"name":"pts"},
"mark":{"type":"point","shape":"diamond","filled":false,"size":81,"strokeWidth":1,"opacity":1,"clip":true},
"encoding":{
"x":{"field":"x","type":"quantitative","scale":{"domain":[0,3.82],"nice":false,"zero":false},"axis":{"orient":"bottom","title":null,"values":[0,0.5,1,1.5,2,2.5,3,3.5],"format":"~g","tickSize":-8,"labelPadding":22}},
"y":{"field":"y","type":"quantitative","scale":{"domain":[-0.5,3.3],"nice":false,"zero":false},"axis":{"orient":"left","title":"|C|/γ² x 10⁻²","values":[-0.5,0,0.5,1,1.5,2,2.5,3],"labelExpr":"datum.value < 0 ? '-' + format(-datum.value,'~g') : format(datum.value,'~g')","tickSize":-8,"labelPadding":24,"titlePadding":4}},
"color":{"field":"s","type":"nominal","scale":{"domain":["r","b","c","k"],"range":["#ff0000","#0000ff","#00ffff","#000000"]},
"legend":{"orient":"none","legendX":738,"legendY":8,"title":null,"labelFontSize":20,"labelFont":"Liberation Sans","labelColor":"black","labelAlign":"right","labelOffset":-39,"symbolType":"M-1.2,0L1.2,0M-1.2,-0.36L-1.2,0.36M1.2,-0.36L1.2,0.36M0,-0.41L0.41,0L0,0.41L-0.41,0Z","symbolSize":484,"symbolStrokeWidth":1,"rowPadding":1.7,"labelExpr":"datum.label == 'r' ? '3.5x10⁻⁴' : datum.label == 'b' ? '5.5x10⁻⁴' : datum.label == 'c' ? '7.5x10⁻⁴' : '2x10-4'"}}}},
{"data":{"values":[{"t":"YI-11 Scan: Yellow Ring"}]},
"mark":{"type":"text","align":"left","baseline":"alphabetic","fontSize":29,"font":"Liberation Sans","color":"black"},
"encoding":{"x":{"datum":0.1,"type":"quantitative","axis":null},"y":{"datum":3.03,"type":"quantitative","axis":null},"text":{"field":"t"}}}
],
"resolve":{"axis":{"x":"independent","y":"independent"},"legend":{"color":"independent"}}
},
{
"width":782,"height":39,
"layer":[
{"data":{"name":"lat"},
"transform":[{"filter":"datum.r == 'a'"}],
"mark":{"type":"tick","orient":"vertical","thickness":2,"size":19.5},
"encoding":{
"x":{"field":"p","type":"quantitative","scale":{"domain":[0,3.82],"nice":false,"zero":false},"axis":{"orient":"bottom","title":"Longitudinal Position [km]","values":[0,0.5,1,1.5,2,2.5,3,3.5],"format":"~g","tickSize":-6,"labelPadding":20,"titlePadding":12}},
"y":{"field":"r","type":"nominal","scale":{"domain":["a","b"],"paddingInner":0,"paddingOuter":0},"axis":null},
"color":{"field":"c","type":"nominal","scale":{"domain":["r","k","g"],"range":["#ff0000","#000000","#808080"]},"legend":null}}},
{"data":{"name":"lat"},
"transform":[{"filter":"datum.r == 'b'"}],
"mark":{"type":"tick","orient":"vertical","thickness":2.6,"size":19.5},
"encoding":{
"x":{"field":"p","type":"quantitative"},
"y":{"field":"r","type":"nominal"},
"color":{"field":"c","type":"nominal","legend":null}}},
{"data":{"name":"ir"},
"mark":{"type":"tick","orient":"vertical","thickness":3.5,"size":19.5},
"encoding":{
"x":{"field":"p","type":"quantitative"},
"y":{"field":"r","type":"nominal"},
"color":{"field":"c","type":"nominal","legend":null}}}
]
}
]
}
